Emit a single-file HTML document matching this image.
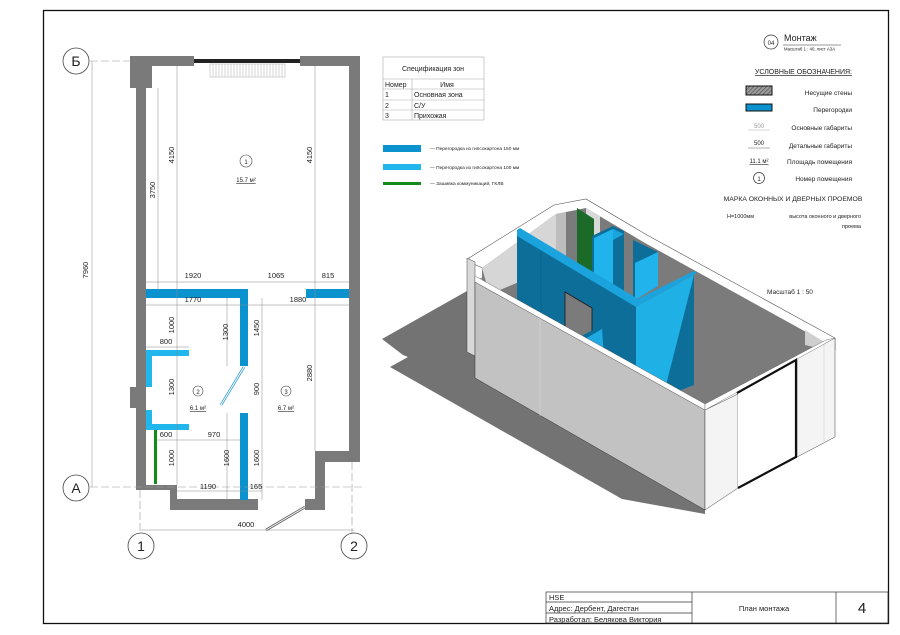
<!DOCTYPE html>
<html><head><meta charset="utf-8"><style>
html,body{margin:0;padding:0;background:#fff}
svg{display:block}
text{font-family:"Liberation Sans Narrow","Liberation Sans",sans-serif;fill:#222}
</style></head><body>
<svg width="900" height="635" viewBox="0 0 900 635" xmlns="http://www.w3.org/2000/svg">
<defs>
<pattern id="h" width="3" height="3" patternUnits="userSpaceOnUse" patternTransform="rotate(45)"><rect width="3" height="3" fill="#999"/><line x1="0" y1="0" x2="0" y2="3" stroke="#444" stroke-width="1"/></pattern>
</defs>
<rect x="43.5" y="10.5" width="845" height="613" fill="none" stroke="#111" stroke-width="1.3"/>

<!-- ===== PLAN ===== -->
<g fill="#7a7a7a">
<rect x="130" y="56" width="22" height="32"/>
<rect x="130" y="56" width="64" height="10"/>
<rect x="300" y="56" width="60" height="10"/>
<rect x="136" y="56" width="10" height="434"/>
<rect x="349" y="56" width="11" height="406"/>
<rect x="315" y="451" width="45" height="11"/>
<rect x="315" y="451" width="10" height="59"/>
<rect x="305" y="499" width="20" height="11"/>
<rect x="130" y="387" width="8" height="21"/>
<rect x="136" y="485" width="40" height="5"/>
<rect x="170" y="485" width="7" height="25"/>
<rect x="170" y="499" width="88" height="11"/>
</g>
<rect x="194" y="59" width="106" height="4" fill="#222"/>
<rect x="210" y="64" width="75" height="13" fill="none" stroke="#aaa" stroke-width="0.5"/>
<g stroke="#bbb" stroke-width="0.6">
<path d="M213 64v13M216 64v13M219 64v13M222 64v13M225 64v13M228 64v13M231 64v13M234 64v13M237 64v13M240 64v13M243 64v13M246 64v13M249 64v13M252 64v13M255 64v13M258 64v13M261 64v13M264 64v13M267 64v13M270 64v13M273 64v13M276 64v13M279 64v13M282 64v13"/>
</g>
<g fill="#0b93cf">
<rect x="146" y="289" width="102" height="9"/>
<rect x="306" y="289" width="43" height="9"/>
<rect x="240" y="289" width="8" height="77"/>
<rect x="240" y="413" width="8" height="87"/>
</g>
<g fill="#21b6ec">
<rect x="146" y="350" width="43" height="6"/>
<rect x="146" y="350" width="6" height="37"/>
<rect x="146" y="410" width="6" height="20"/>
<rect x="146" y="424" width="43" height="6"/>
</g>
<rect x="154" y="430" width="3" height="54" fill="#138a1c"/>
<line x1="244" y1="367" x2="221" y2="405" stroke="#2a9bd0" stroke-width="2.5"/>
<line x1="244" y1="367" x2="221" y2="405" stroke="#fff" stroke-width="1"/>
<line x1="305" y1="507" x2="266" y2="530" stroke="#555" stroke-width="2.5"/>
<line x1="305" y1="507" x2="266" y2="530" stroke="#fff" stroke-width="1"/>
<g stroke="#999" stroke-width="0.6" stroke-dasharray="8 3" fill="none">
<line x1="90" y1="61" x2="135" y2="61"/>
<line x1="90" y1="487" x2="362" y2="487"/>
<line x1="140" y1="490" x2="140" y2="533"/>
<line x1="352" y1="462" x2="352" y2="533"/>
</g>
<g fill="#fff" stroke="#444" stroke-width="0.8">
<circle cx="76" cy="61" r="13"/><circle cx="76" cy="488" r="13"/>
<circle cx="141" cy="546" r="13"/><circle cx="354" cy="546" r="13"/>
</g>
<g font-size="14" text-anchor="middle">
<text x="76" y="66" style="font-family:'Liberation Sans',sans-serif">Б</text>
<text x="76" y="493" style="font-family:'Liberation Sans',sans-serif">А</text>
<text x="141" y="551" style="font-family:'Liberation Sans',sans-serif">1</text>
<text x="354" y="551" style="font-family:'Liberation Sans',sans-serif">2</text>
</g>
<g stroke="#888" stroke-width="0.5" fill="none">
<line x1="92" y1="61" x2="92" y2="487"/>
<line x1="141" y1="530" x2="354" y2="530"/>
<line x1="158" y1="88" x2="158" y2="290"/>
<line x1="177" y1="66" x2="177" y2="485"/>
<line x1="315" y1="66" x2="315" y2="451"/>
<line x1="146" y1="282" x2="349" y2="282"/>
<line x1="146" y1="305" x2="349" y2="305"/>
<line x1="227" y1="298" x2="227" y2="366"/>
<line x1="262" y1="298" x2="262" y2="500"/>
<line x1="146" y1="347" x2="189" y2="347"/>
<line x1="157" y1="440" x2="240" y2="440"/>
<line x1="227" y1="413" x2="227" y2="500"/>
<line x1="177" y1="491" x2="262" y2="491"/>
</g>
<g font-size="7.5" text-anchor="middle">
<text transform="translate(88,270) rotate(-90)">7960</text>
<text x="246" y="527">4000</text>
<text transform="translate(155,190) rotate(-90)">3750</text>
<text transform="translate(174,155) rotate(-90)">4150</text>
<text transform="translate(312,155) rotate(-90)">4150</text>
<text x="193" y="278">1920</text><text x="276" y="278">1065</text><text x="328" y="278">815</text>
<text x="193" y="302">1770</text><text x="298" y="302">1880</text>
<text transform="translate(174,325) rotate(-90)">1000</text>
<text transform="translate(228,332) rotate(-90)">1300</text>
<text transform="translate(259,328) rotate(-90)">1450</text>
<text x="166" y="344">800</text>
<text transform="translate(174,387) rotate(-90)">1300</text>
<text transform="translate(259,389) rotate(-90)">900</text>
<text transform="translate(312,373) rotate(-90)">2880</text>
<text x="166" y="437">600</text><text x="214" y="437">970</text>
<text transform="translate(174,458) rotate(-90)">1000</text>
<text transform="translate(229,458) rotate(-90)">1600</text>
<text transform="translate(259,458) rotate(-90)">1600</text>
<text x="208" y="489">1190</text><text x="256" y="489">165</text>
</g>
<g fill="none" stroke="#444" stroke-width="0.6">
<circle cx="246" cy="161" r="6"/><circle cx="198" cy="391" r="5"/><circle cx="286" cy="391" r="5"/>
</g>
<g font-size="6" text-anchor="middle">
<text x="246" y="164">1</text><text x="198" y="394">2</text><text x="286" y="394">3</text>
<text x="246" y="182" text-decoration="underline">15.7 м²</text>
<text x="198" y="410" text-decoration="underline">6.1 м²</text>
<text x="286" y="410" text-decoration="underline">6.7 м²</text>
</g>

<!-- ===== SPEC TABLE ===== -->
<g fill="none" stroke="#aaa" stroke-width="0.6">
<rect x="383" y="57" width="101" height="63"/>
<line x1="383" y1="79" x2="484" y2="79"/><line x1="383" y1="89" x2="484" y2="89"/>
<line x1="383" y1="100" x2="484" y2="100"/><line x1="383" y1="110" x2="484" y2="110"/>
<line x1="412" y1="79" x2="412" y2="120"/>
</g>
<g font-size="7">
<text x="433" y="71" text-anchor="middle" style="font-family:'Liberation Sans',sans-serif">Спецификация зон</text>
<text x="385" y="87" style="font-family:'Liberation Sans',sans-serif">Номер</text>
<text x="447" y="87" text-anchor="middle" style="font-family:'Liberation Sans',sans-serif">Имя</text>
<text x="385" y="97" style="font-family:'Liberation Sans',sans-serif">1</text><text x="414" y="97" style="font-family:'Liberation Sans',sans-serif">Основная зона</text>
<text x="385" y="108" style="font-family:'Liberation Sans',sans-serif">2</text><text x="414" y="108" style="font-family:'Liberation Sans',sans-serif">С/У</text>
<text x="385" y="118" style="font-family:'Liberation Sans',sans-serif">3</text><text x="414" y="118" style="font-family:'Liberation Sans',sans-serif">Прихожая</text>
</g>
<rect x="383" y="145" width="38" height="7" fill="#0b93cf"/>
<rect x="383" y="164" width="38" height="6" fill="#21b6ec"/>
<rect x="383" y="182" width="38" height="3" fill="#138a1c"/>
<g font-size="4.8">
<text x="430" y="150">— Перегородка из гипсокартона 150 мм</text>
<text x="430" y="169">— Перегородка из гипсокартона 100 мм</text>
<text x="430" y="185">— Зашивка коммуникаций, ГКЛВ</text>
</g>

<!-- ===== RIGHT LEGEND ===== -->
<circle cx="771" cy="42" r="7" fill="none" stroke="#333" stroke-width="0.7"/>
<text x="771" y="45" font-size="6" text-anchor="middle">04</text>
<text x="784" y="41" font-size="9">Монтаж</text>
<line x1="783" y1="45" x2="841" y2="45" stroke="#333" stroke-width="0.5"/>
<text x="784" y="50.5" font-size="4.3">Масштаб 1 : 40, лист A3A</text>
<text x="852" y="74" font-size="7" text-anchor="end" text-decoration="underline">УСЛОВНЫЕ ОБОЗНАЧЕНИЯ:</text>
<rect x="746" y="86" width="26" height="9" fill="url(#h)" stroke="#111" stroke-width="1"/>
<rect x="746" y="104" width="26" height="7" fill="#0b93cf" stroke="#111" stroke-width="1"/>
<g font-size="6.5" text-anchor="end">
<text x="852" y="95">Несущие стены</text>
<text x="852" y="112">Перегородки</text>
<text x="852" y="130">Основные габариты</text>
<text x="852" y="148">Детальные габариты</text>
<text x="852" y="164">Площадь помещения</text>
<text x="852" y="181">Номер помещения</text>
</g>
<g stroke="#666" stroke-width="0.5">
<line x1="748" y1="130" x2="770" y2="130" stroke="#aaa"/>
<line x1="748" y1="148" x2="770" y2="148"/>
</g>
<text x="759" y="128" font-size="6" text-anchor="middle" style="fill:#999">500</text>
<text x="759" y="145" font-size="6" text-anchor="middle">500</text>
<text x="759" y="163" font-size="6" text-anchor="middle" text-decoration="underline">11.1 м²</text>
<circle cx="759" cy="178" r="5.5" fill="none" stroke="#333" stroke-width="0.7"/>
<text x="759" y="181" font-size="6" text-anchor="middle">1</text>
<text x="793" y="201" font-size="6.8" text-anchor="middle">МАРКА ОКОННЫХ И ДВЕРНЫХ ПРОЕМОВ</text>
<text x="727" y="218" font-size="5.5">Н=1000мм</text>
<text x="861" y="218" font-size="5.5" text-anchor="end">высота оконного и дверного</text>
<text x="861" y="228" font-size="5.5" text-anchor="end">проема</text>
<text x="790" y="294" font-size="6.5" text-anchor="middle">Масштаб 1 : 50</text>

<!-- ===== ISOMETRIC ===== -->
<polygon points="382,339 467,291 475,300 705,430 705,514 622,499 390,367 408,357 403,355" fill="#737373"/>
<polygon points="469,258 554,205 586,199 647,235 835,338 835,350 705,410 475,282 492,272 469,262" fill="#fff" stroke="#555" stroke-width="0.6"/>
<polygon points="482,268 556,214 586,208 645,243 826,343 705,404 482,280" fill="#7b7b7b"/>
<polygon points="482,268 556,214 566,212 566,262 500,290 486,282" fill="#d6d6d6"/>
<polygon points="556,214 566,212 566,262 556,266" fill="#bdbdbd"/>
<polygon points="586,208 600,216 600,275 586,268" fill="#d8d8d8"/>
<polygon points="805,330 826,343 826,350 805,345" fill="#cfcfcf"/>
<polygon points="467,258 475,262 475,356 467,352" fill="#d9d9d9" stroke="#444" stroke-width="0.5"/>
<polygon points="577,208 594,219 594,276 577,267" fill="#1b6a27"/>
<polygon points="592,236 613,226 624,231 624,294 592,278" fill="#0c6e99"/>
<polygon points="594,238 613,229 613,289 594,280" fill="#21b3ec"/>
<polygon points="613,229 624,234 613,240" fill="#1aa3dc"/>
<polygon points="633,240 658,252 658,286 633,301" fill="#0c6e99"/>
<polygon points="635,263 658,252 658,286 635,300" fill="#21b3ec"/>
<polygon points="517,233 636,304 636,379 517,304" fill="#0c6e99"/>
<line x1="541" y1="247" x2="541" y2="318" stroke="#0a5f85" stroke-width="0.6"/>
<polygon points="517,230 520,228 638,299 694,271 697,273 636,307 517,236" fill="#1aa3dc"/>
<polygon points="565,292 592,308 592,348 565,332" fill="#7b7b7b" stroke="#1a1a1a" stroke-width="0.8"/>
<polygon points="576,342 602,328 604,358 580,350" fill="#1fa9e2"/>
<polygon points="574,340 600,326 602,329 578,343" fill="#0c6e99"/>
<polygon points="636,307 694,275 694,385 663,397 636,379" fill="#1fb0e6"/>
<polygon points="694,275 694,385 663,397" fill="#0c6e99"/>
<polygon points="475,282 705,410 705,510 475,378" fill="#c2c2c2" stroke="#333" stroke-width="0.5"/>
<line x1="540" y1="318" x2="540" y2="416" stroke="#d8d8d8" stroke-width="0.6"/>
<polygon points="475,276 705,404 705,410 475,282" fill="#fff" stroke="#555" stroke-width="0.4"/>
<polygon points="705,410 738,394 738,488 705,510" fill="#f4f4f4" stroke="#444" stroke-width="0.5"/>
<polygon points="738,394 797,360 797,457 738,488" fill="#fff"/>
<polygon points="797,358 835,338 835,437 797,457" fill="#f4f4f4" stroke="#444" stroke-width="0.5"/>
<line x1="824" y1="344" x2="824" y2="443" stroke="#ccc" stroke-width="0.5"/>
<polygon points="705,404 826,340 835,338 705,410" fill="#fff" stroke="#555" stroke-width="0.4"/>
<polyline points="737,393 796,360 796,457 738,488" fill="none" stroke="#111" stroke-width="2.2"/>

<!-- ===== TITLE BLOCK ===== -->
<g fill="none" stroke="#333" stroke-width="0.7">
<rect x="546" y="592" width="342" height="31"/>
<line x1="692" y1="592" x2="692" y2="623"/><line x1="836" y1="592" x2="836" y2="623"/>
<line x1="546" y1="602" x2="692" y2="602"/><line x1="546" y1="613" x2="692" y2="613"/>
</g>
<g font-size="7.5">
<text x="549" y="600">HSE</text>
<text x="549" y="611">Адрес:  Дербент, Дагестан</text>
<text x="549" y="622">Разработал: Белякова Виктория</text>
<text x="764" y="611" text-anchor="middle">План монтажа</text>
</g>
<text x="862" y="613" font-size="15" text-anchor="middle">4</text>
</svg>
</body></html>
